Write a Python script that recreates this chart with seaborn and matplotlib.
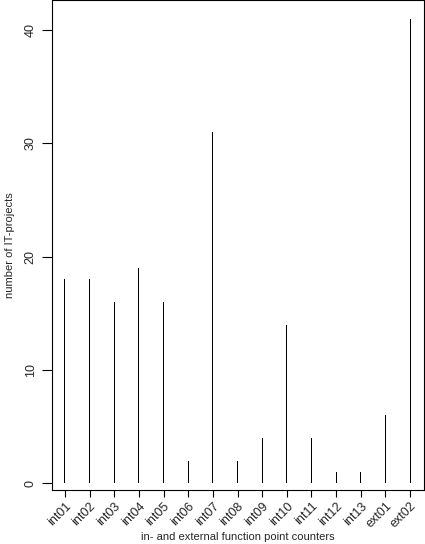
import matplotlib
matplotlib.use('Agg')
import matplotlib.pyplot as plt
import matplotlib.transforms as mtransforms
import pandas as pd
import seaborn as sns

# in- and external function point counters
counters = ['int01', 'int02', 'int03', 'int04', 'int05', 'int06', 'int07',
            'int08', 'int09', 'int10', 'int11', 'int12', 'int13',
            'ext01', 'ext02']
projects = [18, 18, 16, 19, 16, 2, 31, 2, 4, 14, 4, 1, 1, 6, 41]
yticks = [0, 10, 20, 30, 40]

df = pd.DataFrame({'counter': counters, 'projects': projects})

sns.set_style('ticks')
plt.rcParams['font.family'] = ['Liberation Sans', 'DejaVu Sans']

fig = plt.figure(figsize=(4.25, 5.44), dpi=100)
ax = fig.add_axes([0.122, 0.099, 0.876, 0.901])

# 1px wide bars so they read like R's type="h" spikes
sns.barplot(data=df, x='counter', y='projects', ax=ax, width=0.04,
            color='black', linewidth=0, errorbar=None, saturation=1)
for p in ax.patches:
    p.set_antialiased(False)
    p.set_snap(True)

ax.set_xlim(-0.53, 14.57)
ax.set_ylim(-0.6, 42.65)
ax.set_yticks(yticks)
ax.set_yticklabels([str(v) for v in yticks], rotation=90, va='center',
                   fontsize=9)
ax.set_xticks(range(len(counters)))
ax.set_xticklabels(counters, rotation=45, ha='right', va='top',
                   rotation_mode='anchor', fontsize=9)
shift = mtransforms.ScaledTranslation(9 / 72, -3 / 72, fig.dpi_scale_trans)
for lab in ax.get_xticklabels():
    lab.set_transform(lab.get_transform() + shift)
ax.tick_params(axis='y', length=7, width=0.8, color='black', pad=4)
ax.tick_params(axis='x', length=5, width=0.8, color='black', pad=2)

for s in ax.spines.values():
    s.set_visible(True)
    s.set_color('black')
    s.set_linewidth(0.8)

ax.set_xlabel('in- and external function point counters', fontsize=8)
ax.xaxis.set_label_coords(0.5, -0.096)
ax.xaxis.label.set_va('center')
ax.set_ylabel('number of IT-projects', fontsize=8)
ax.yaxis.set_label_coords(-0.113, 0.5)
ax.yaxis.label.set_va('center')

fig.savefig('out.png', dpi=100)
